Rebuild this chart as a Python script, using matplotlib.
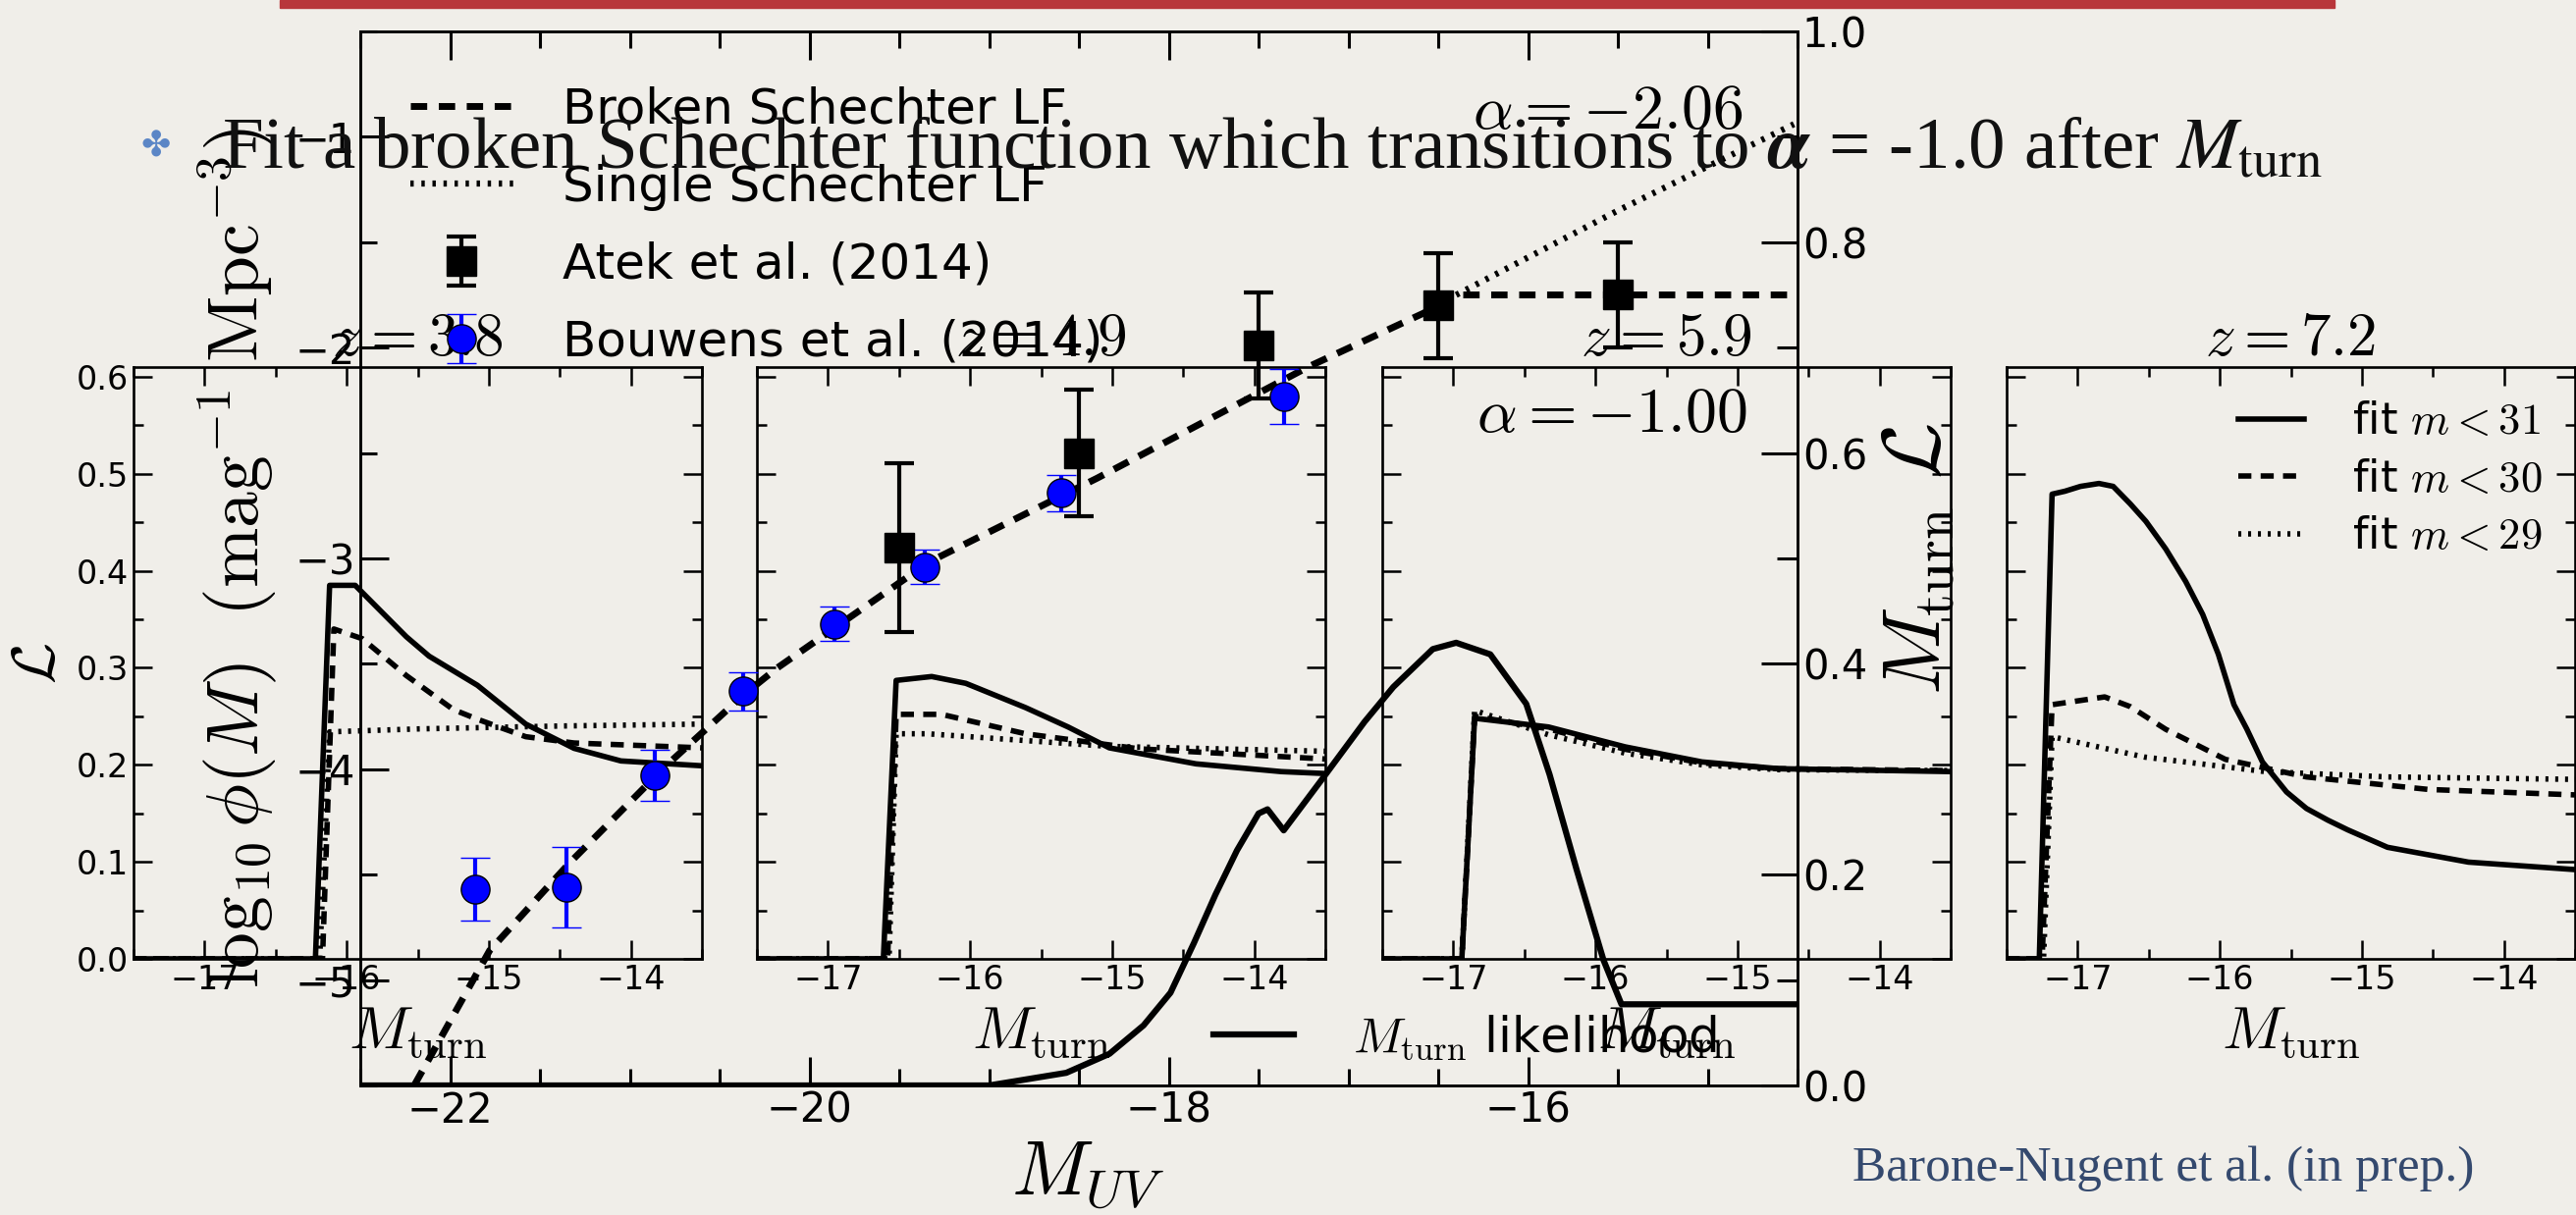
import matplotlib

matplotlib.use("Agg")
import matplotlib.pyplot as plt
from matplotlib.patches import Rectangle
from matplotlib.ticker import MultipleLocator

plt.rcParams["font.family"] = ["DejaVu Sans"]
plt.rcParams["mathtext.fontset"] = "cm"

W, H = 2624, 1238
PAPER, INK, BLUE = "#f0eee9", "#000000", "#0000ff"
DASH, DOT = (0, (2.4, 1.7)), (0, (0.55, 1.25))

# --- UV luminosity function (big plot) ---
atek_mag = [-19.5, -18.5, -17.5, -16.5, -15.5]
atek_phi = [-2.95, -2.50, -1.99, -1.80, -1.75]
atek_err = [0.40, 0.30, 0.25, 0.25, 0.25]

bouw_mag = [-21.86, -21.35, -20.86, -20.37, -19.86, -19.36, -18.60, -17.36]
bouw_phi = [-4.57, -4.56, -4.03, -3.63, -3.31, -3.04, -2.69, -2.23]
bouw_err = [0.15, 0.19, 0.12, 0.09, 0.08, 0.08, 0.085, 0.13]

broken_mag = [-22.2, -21.78, -21.33, -20.8, -20.37, -20.18, -19.33, -18.4, -17.22, -16.58, -16.4, -14.5]
broken_phi = [-5.5, -4.86, -4.44, -3.985, -3.65, -3.52, -3.015, -2.62, -2.09, -1.836, -1.75, -1.75]
single_mag = [-16.4, -15.5, -14.52]
single_phi = [-1.75, -1.35, -0.94]

like_mag = [-22.5, -19.0, -18.57, -18.33, -18.14, -17.99, -17.86, -17.74, -17.62, -17.5, -17.45,
            -17.36, -17.14, -16.91, -16.75, -16.53, -16.4, -16.21, -16.01, -15.88, -15.73, -15.58,
            -15.48, -14.5]
like_val = [0.0, 0.0, 0.012, 0.03, 0.057, 0.088, 0.135, 0.181, 0.223, 0.258, 0.262,
            0.242, 0.292, 0.345, 0.378, 0.414, 0.42, 0.409, 0.362, 0.295, 0.205, 0.119,
            0.077, 0.077]

# --- M_turn likelihood panels ---
panel_z = ["3.8", "4.9", "5.9", "7.2"]
p1_x_solid = [-17.5, -16.22, -16.12, -15.94, -15.75, -15.58, -15.42, -15.08, -14.91, -14.74, -14.40, -14.07, -13.5]
p1_solid = [0.0, 0.0, 0.385, 0.385, 0.357, 0.332, 0.312, 0.282, 0.262, 0.242, 0.217, 0.204, 0.199]
p1_x_dash = [-17.5, -16.17, -16.09, -15.89, -15.58, -15.25, -15.08, -14.74, -14.40, -13.5]
p1_dash = [0.0, 0.0, 0.34, 0.33, 0.292, 0.257, 0.247, 0.229, 0.2225, 0.2175]
p1_x_dot = [-17.5, -16.19, -16.12, -15.5, -14.5, -13.5]
p1_dot = [0.0, 0.0, 0.234, 0.237, 0.240, 0.242]

p2_x_solid = [-17.5, -16.61, -16.52, -16.27, -16.03, -15.61, -15.31, -15.02, -14.41, -13.81, -13.5]
p2_solid = [0.0, 0.0, 0.287, 0.291, 0.284, 0.259, 0.239, 0.2175, 0.201, 0.193, 0.191]
p2_x_dash = [-17.5, -16.58, -16.52, -16.2, -15.61, -14.81, -13.5]
p2_dash = [0.0, 0.0, 0.252, 0.252, 0.232, 0.2165, 0.206]
p2_x_dot = [-17.5, -16.57, -16.52, -16.3, -15.02, -13.5]
p2_dot = [0.0, 0.0, 0.232, 0.232, 0.219, 0.214]

p3_x = [-17.5, -16.94, -16.85, -16.33, -15.79, -15.25, -14.71, -13.5]
p3_solid = [0.0, 0.0, 0.248, 0.239, 0.2185, 0.203, 0.196, 0.193]
p3_dash = [0.0, 0.0, 0.250, 0.237, 0.216, 0.202, 0.196, 0.194]
p3_dot = [0.0, 0.0, 0.256, 0.231, 0.212, 0.200, 0.195, 0.194]

p4_x_solid = [-17.5, -17.27, -17.18, -17.09, -16.98, -16.85, -16.75, -16.63, -16.52, -16.38, -16.24,
              -16.12, -16.01, -15.9, -15.81, -15.7, -15.53, -15.39, -15.24, -15.1, -14.82, -14.25, -13.5]
p4_solid = [0.0, 0.0, 0.479, 0.482, 0.487, 0.490, 0.487, 0.469, 0.451, 0.4225, 0.389,
            0.355, 0.314, 0.262, 0.237, 0.203, 0.172, 0.155, 0.143, 0.133, 0.115, 0.0997, 0.092]
p4_x_dash = [-17.5, -17.25, -17.18, -16.81, -16.63, -16.38, -15.96, -15.39, -14.53, -13.5]
p4_dash = [0.0, 0.0, 0.262, 0.270, 0.260, 0.2366, 0.2056, 0.1875, 0.1746, 0.169]
p4_x_dot = [-17.5, -17.24, -17.18, -16.53, -15.68, -14.82, -13.5]
p4_dot = [0.0, 0.0, 0.229, 0.208, 0.193, 0.1875, 0.185]

panels = [
    (p1_x_solid, p1_solid, p1_x_dash, p1_dash, p1_x_dot, p1_dot),
    (p2_x_solid, p2_solid, p2_x_dash, p2_dash, p2_x_dot, p2_dot),
    (p3_x, p3_solid, p3_x, p3_dash, p3_x, p3_dot),
    (p4_x_solid, p4_solid, p4_x_dash, p4_dash, p4_x_dot, p4_dot),
]
fit_labels = [r"fit $m<31$", r"fit $m<30$", r"fit $m<29$"]

fig = plt.figure(figsize=(W / 100, H / 100), dpi=100, facecolor=PAPER)


def px_axes(left, top, right, bottom):
    return fig.add_axes([left / W, 1 - bottom / H, (right - left) / W, (bottom - top) / H])


def ticks_in(ax, major, minor, width, size):
    ax.tick_params(which="both", direction="in", width=width, labelsize=size, colors=INK)
    ax.tick_params(which="major", length=major)
    ax.tick_params(which="minor", length=minor)


# slide decoration
fig.patches.append(Rectangle((285 / W, 1 - 8 / H), 2093 / W, 8 / H, transform=fig.transFigure,
                             color="#b8363b", zorder=0))

# small panels
for i, (left, z, curves) in enumerate(zip([136, 771, 1408, 2044], panel_z, panels)):
    ax = px_axes(left, 374, left + 579, 977)
    ax.set_facecolor("none")
    xs, ys, xd, yd, xo, yo = curves
    ax.plot(xs, ys, color=INK, lw=4, label=fit_labels[0])
    ax.plot(xd, yd, color=INK, lw=4, ls=DASH, label=fit_labels[1])
    ax.plot(xo, yo, color=INK, lw=4, ls=DOT, label=fit_labels[2])
    ax.set_xlim(-17.5, -13.5)
    ax.set_ylim(0, 0.61)
    ax.xaxis.set_major_locator(MultipleLocator(1))
    ax.xaxis.set_minor_locator(MultipleLocator(0.5))
    ax.yaxis.set_major_locator(MultipleLocator(0.1))
    ax.yaxis.set_minor_locator(MultipleLocator(0.05))
    ticks_in(ax, 14, 7, 1.8, 24)
    ax.tick_params(which="both", top=True, right=True, labelleft=(i == 0))
    for s in ax.spines.values():
        s.set_linewidth(1.9)
    ax.text(0.5, 1.02, f"$z={z}$", transform=ax.transAxes, ha="center", va="baseline", fontsize=44)
    ax.text(0.5, -0.151, r"$M_{\rm turn}$", transform=ax.transAxes, ha="center", va="baseline",
            fontsize=44)
    if i == 0:
        ax.text(-0.166, 0.5, r"$\mathcal{L}$", transform=ax.transAxes, rotation=90,
                ha="center", va="center", fontsize=44)
    if i == 2:
        ax.text(0.403, 0.92, r"$\alpha=-1.00$", transform=ax.transAxes, ha="center", va="center",
                fontsize=46)
    if i == 3:
        ax.legend(loc="upper left", bbox_to_anchor=(0.408, 0.943), frameon=False, fontsize=32,
                  borderpad=0, borderaxespad=0, handlelength=1.5, handletextpad=1.1,
                  labelspacing=0.35)

# big luminosity-function plot
big = px_axes(367, 32, 1831, 1106)
big.set_facecolor("none")
big.plot(broken_mag, broken_phi, color=INK, lw=5, ls=DASH, label="Broken Schechter LF")
big.plot(single_mag, single_phi, color=INK, lw=4.5, ls=DOT, label="Single Schechter LF")
big.errorbar(atek_mag, atek_phi, yerr=atek_err, fmt="s", color=INK, ms=22, capsize=11,
             elinewidth=3, capthick=3, label="Atek et al. (2014)")
big.errorbar(bouw_mag, bouw_phi, yerr=bouw_err, fmt="o", mfc=BLUE, mec=INK, mew=1, ecolor=BLUE,
             ms=21, capsize=11, elinewidth=3, capthick=3, label="Bouwens et al. (2014)")
big.set_xlim(-22.5, -14.5)
big.set_ylim(-5.5, -0.5)
big.xaxis.set_major_locator(MultipleLocator(2))
big.xaxis.set_minor_locator(MultipleLocator(0.5))
big.yaxis.set_major_locator(MultipleLocator(1))
big.yaxis.set_minor_locator(MultipleLocator(0.5))
ticks_in(big, 21, 12, 2.2, 30)
big.tick_params(which="both", top=True, right=False)
for s in big.spines.values():
    s.set_linewidth(2.1)
big.legend(loc="upper left", bbox_to_anchor=(0.0348, 0.948), frameon=False, fontsize=36,
           borderpad=0, borderaxespad=0, handlelength=2.1, handletextpad=1.0, labelspacing=0.62,
           numpoints=1)
big.text(-0.0854, 0.5, r"$\log_{10}\phi(M)\ \ (\mathrm{mag}^{-1}\ \mathrm{Mpc}^{-3})$",
         transform=big.transAxes, rotation=90, ha="center", va="center", fontsize=53)
big.text(0.506, -0.1034, r"$M_{UV}$", transform=big.transAxes, ha="center", va="baseline",
         fontsize=56)
big.text(0.868, 0.9246, r"$\alpha=-2.06$", transform=big.transAxes, ha="center", va="center",
         fontsize=46)

tw = big.twinx()
tw.plot(like_mag, like_val, color=INK, lw=4.5, label=r"$M_{\rm turn}$ likelihood")
tw.set_ylim(0, 1)
tw.yaxis.set_major_locator(MultipleLocator(0.2))
tw.yaxis.set_minor_locator(MultipleLocator(0.1))
ticks_in(tw, 27, 15, 2.2, 30)
tw.legend(loc="center left", bbox_to_anchor=(0.5936, 0.0456), frameon=False, fontsize=36,
          borderpad=0, borderaxespad=0, handlelength=1.64, handletextpad=1.2)
tw.text(1.0833, 0.5, r"$M_{\rm turn}\ \mathcal{L}$", transform=tw.transAxes, rotation=90,
        ha="center", va="center", fontsize=60)

# slide text
fig.text(159 / W, 1 - 150 / H, "\u2724", color="#5b86c6", fontsize=26, ha="center", va="center")
fig.text(226 / W, 1 - 172 / H,
         r"Fit a broken Schechter function which transitions to $\boldsymbol{\alpha}$ = -1.0 after $M_{\rm turn}$",
         family="Liberation Serif", math_fontfamily="stix", fontsize=54, color="#111111",
         ha="left", va="baseline")
fig.text(1887 / W, 1 - 1203 / H, "Barone-Nugent et al. (in prep.)", family="Liberation Serif",
         fontsize=37, color="#34496e", ha="left", va="baseline")

fig.savefig("out.png", dpi=100, facecolor=PAPER)
